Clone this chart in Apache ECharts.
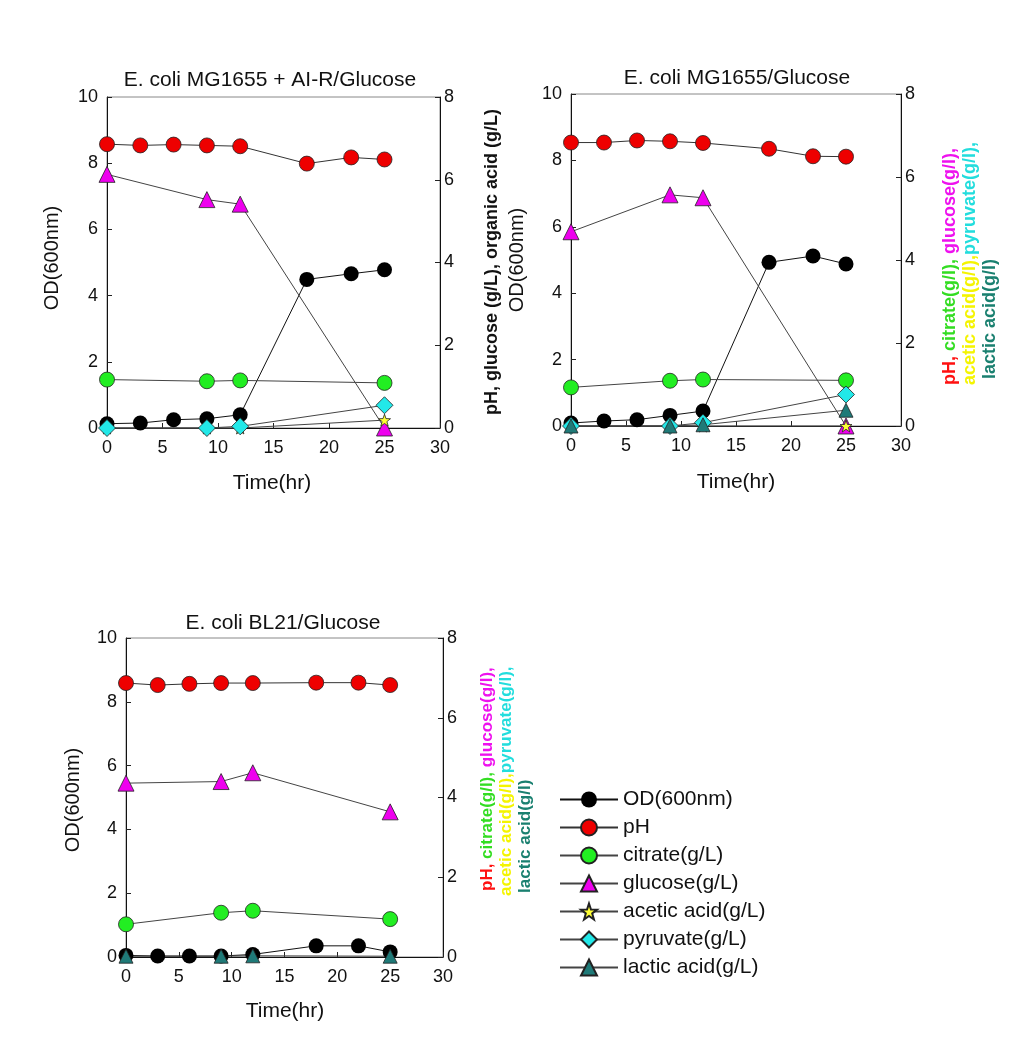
<!DOCTYPE html>
<html><head><meta charset="utf-8">
<script src="https://cdn.jsdelivr.net/npm/echarts@6/dist/echarts.min.js"></script>
<style>html,body{margin:0;padding:0;background:#fff}#c{width:1023px;height:1040px}</style>
</head><body><div id="c"></div>
<script>
// ---------- data ----------
const timesAll = [0, 3, 6, 9, 12, 18, 22, 25];
const timesSub = [0, 9, 12, 25];
const xTicks = [0, 5, 10, 15, 20, 25, 30];
const leftTicks = [0, 2, 4, 6, 8, 10];
const rightTicks = [0, 2, 4, 6, 8];

const panelTitles = ['E. coli MG1655 + AI-R/Glucose', 'E. coli MG1655/Glucose', 'E. coli BL21/Glucose'];
const seriesNames = ['OD(600nm)', 'pH', 'citrate(g/L)', 'glucose(g/L)', 'acetic acid(g/L)', 'pyruvate(g/L)', 'lactic acid(g/L)'];

// Panel A: E. coli MG1655 + AI-R/Glucose
const odA  = [0.13, 0.15, 0.25, 0.28, 0.40, 4.49, 4.66, 4.78];
const phA  = [6.86, 6.83, 6.85, 6.83, 6.81, 6.39, 6.54, 6.49];
const citA = [1.17, 1.13, 1.15, 1.09];
const glcA = [6.13, 5.52, 5.41, 0.0];
const aceA = [0, 0, 0, 0.19];
const pyrA = [0, 0, 0.04, 0.55];

// Panel B: E. coli MG1655/Glucose
const odB  = [0.09, 0.15, 0.19, 0.32, 0.45, 4.93, 5.12, 4.88];
const phB  = [6.83, 6.83, 6.88, 6.86, 6.82, 6.68, 6.50, 6.49];
const citB = [0.93, 1.09, 1.12, 1.10];
const glcB = [4.68, 5.57, 5.50, 0.0];
const aceB = [0, 0, 0, 0];
const pyrB = [0, 0, 0.08, 0.76];
const lacB = [0, 0, 0.03, 0.38];

// Panel C: E. coli BL21/Glucose
const odC  = [0.05, 0.03, 0.03, 0.03, 0.08, 0.35, 0.35, 0.16];
const phC  = [6.87, 6.82, 6.85, 6.87, 6.87, 6.88, 6.88, 6.82];
const citC = [0.82, 1.11, 1.16, 0.95];
const glcC = [4.36, 4.40, 4.62, 3.64];
const lacC = [0.02, 0.02, 0.03, 0.02];

// ---------- styling / layout ----------
const FONT = 'Arial, "Liberation Sans", sans-serif';
const grids = [
  {left: 107, top: 97, width: 333, height: 331},
  {left: 571, top: 94, width: 330, height: 332},
  {left: 126, top: 638, width: 317, height: 319}
];
const sty = {
  'OD(600nm)':        {symbol: 'circle',   size: 15, fill: '#000000', line: '#111111'},
  'pH':               {symbol: 'circle',   size: 15, fill: '#ee0000', line: '#333333'},
  'citrate(g/L)':     {symbol: 'circle',   size: 15, fill: '#22ee22', line: '#444444'},
  'glucose(g/L)':     {symbol: 'triangle', size: 16, fill: '#ee00ee', line: '#444444'},
  'acetic acid(g/L)': {symbol: 'path://M0,-10 L2.35,-3.24 L9.51,-3.09 L3.8,1.24 L5.88,8.09 L0,4 L-5.88,8.09 L-3.8,1.24 L-9.51,-3.09 L-2.35,-3.24 Z', size: 12, fill: '#ffff33', line: '#444444'},
  'pyruvate(g/L)':    {symbol: 'diamond',  size: 17, fill: '#22e8e8', line: '#444444'},
  'lactic acid(g/L)': {symbol: 'triangle', size: 14, fill: '#1f7a78', line: '#444444'}
};

function zip(xs, ys) { return xs.map((x, i) => [x, ys[i]]); }

const panels = [
  {OD: odA, pH: phA, cit: citA, glc: glcA, ace: aceA, pyr: pyrA, lac: null},
  {OD: odB, pH: phB, cit: citB, glc: glcB, ace: aceB, pyr: pyrB, lac: lacB},
  {OD: odC, pH: phC, cit: citC, glc: glcC, ace: null, pyr: null, lac: lacC}
];

const xAxes = [], yAxes = [], series = [];
const axisBase = {
  axisLine: {show: true, lineStyle: {color: '#111', width: 1}},
  axisTick: {show: true, inside: true, length: 5, lineStyle: {color: '#222'}},
  splitLine: {show: false},
  axisLabel: {fontSize: 18, fontFamily: FONT, color: '#111'}
};

panels.forEach((p, g) => {
  xAxes.push(Object.assign({}, axisBase, {
    type: 'value', gridIndex: g, min: xTicks[0], max: xTicks[xTicks.length - 1], interval: 5,
    axisLabel: Object.assign({}, axisBase.axisLabel, {margin: 11})
  }));
  yAxes.push(Object.assign({}, axisBase, {
    type: 'value', gridIndex: g, position: 'left', min: leftTicks[0], max: leftTicks[leftTicks.length - 1], interval: 2,
    axisLabel: Object.assign({}, axisBase.axisLabel, {margin: 9})
  }));
  yAxes.push(Object.assign({}, axisBase, {
    type: 'value', gridIndex: g, position: 'right', min: rightTicks[0], max: rightTicks[rightTicks.length - 1], interval: 2,
    axisLabel: Object.assign({}, axisBase.axisLabel, {margin: 4})
  }));
  const add = (name, xs, ys, right) => {
    if (!ys) return;
    const s = sty[name];
    series.push({
      name: name, type: 'line', xAxisIndex: g, yAxisIndex: right ? 2 * g + 1 : 2 * g,
      data: zip(xs, ys), symbol: s.symbol, symbolSize: s.size, clip: false,
      itemStyle: {color: s.fill, borderColor: '#222', borderWidth: name === 'OD(600nm)' ? 0 : 0.8},
      lineStyle: {color: s.line, width: 1},
      emphasis: {disabled: true}, animation: false
    });
  };
  add('OD(600nm)', timesAll, p.OD, false);
  add('pH', timesAll, p.pH, true);
  add('citrate(g/L)', timesSub, p.cit, true);
  add('glucose(g/L)', timesSub, p.glc, true);
  add('acetic acid(g/L)', timesSub, p.ace, true);
  add('pyruvate(g/L)', timesSub, p.pyr, true);
  add('lactic acid(g/L)', timesSub, p.lac, true);
});

function txt(x, y, text, size, opts) {
  opts = opts || {};
  return {
    type: 'text', x: x, y: y, rotation: opts.rot || 0, silent: true,
    style: Object.assign({
      text: text, fontSize: size, fontFamily: FONT, fontWeight: opts.bold ? 'bold' : 'normal',
      fill: opts.fill || '#111', align: opts.align || 'center', verticalAlign: 'middle'
    }, opts.rich ? {rich: opts.rich} : {})
  };
}
function richStyles(size) {
  const base = {fontSize: size, fontWeight: 'bold', fontFamily: FONT};
  return {
    r: Object.assign({fill: '#ff1010'}, base),
    g: Object.assign({fill: '#33dd22'}, base),
    m: Object.assign({fill: '#ee11ee'}, base),
    y: Object.assign({fill: '#f4f400'}, base),
    c: Object.assign({fill: '#22dddd'}, base),
    t: Object.assign({fill: '#1a8070'}, base)
  };
}
const R = Math.PI / 2;
const graphics = [
  txt(270, 80, panelTitles[0], 21),
  txt(737, 78, panelTitles[1], 21),
  txt(283, 623, panelTitles[2], 21),
  txt(272, 483, 'Time(hr)', 21),
  txt(736, 482, 'Time(hr)', 21),
  txt(285, 1011, 'Time(hr)', 21),
  txt(52, 258, 'OD(600nm)', 20, {rot: R}),
  txt(517, 260, 'OD(600nm)', 20, {rot: R}),
  txt(73, 800, 'OD(600nm)', 20, {rot: R}),
  txt(492, 262, 'pH, glucose (g/L), organic acid (g/L)', 18, {rot: R, bold: true}),
  // panel B multi-coloured right axis title
  txt(950, 385, '{r|pH, }{g|citrate(g/l), }{m|glucose(g/l),}', 18, {rot: R, align: 'left', rich: richStyles(18)}),
  txt(970, 385, '{y|acetic acid(g/l),}{c|pyruvate(g/l),}', 18, {rot: R, align: 'left', rich: richStyles(18)}),
  txt(990, 379, '{t|lactic acid(g/l)}', 18, {rot: R, align: 'left', rich: richStyles(18)}),
  // panel C multi-coloured right axis title
  txt(487, 891, '{r|pH, }{g|citrate(g/l), }{m|glucose(g/l),}', 17, {rot: R, align: 'left', rich: richStyles(17)}),
  txt(506, 896, '{y|acetic acid(g/l),}{c|pyruvate(g/l),}', 17, {rot: R, align: 'left', rich: richStyles(17)}),
  txt(525, 893, '{t|lactic acid(g/l)}', 17, {rot: R, align: 'left', rich: richStyles(17)})
];

const chart = echarts.init(document.getElementById('c'), null, {renderer: 'canvas'});
chart.setOption({
  animation: false,
  backgroundColor: '#ffffff',
  grid: grids.map(g => Object.assign({show: true, borderColor: '#888', borderWidth: 1, containLabel: false, outerBoundsMode: 'none'}, g)),
  xAxis: xAxes,
  yAxis: yAxes,
  legend: {
    orient: 'vertical', left: 554, top: 784, itemWidth: 58, itemHeight: 20, itemGap: 7,
    selectedMode: false, data: seriesNames,
    textStyle: {fontSize: 21, fontFamily: FONT, color: '#111', lineHeight: 21}
  },
  graphic: graphics,
  series: series
});
</script>
</body></html>
